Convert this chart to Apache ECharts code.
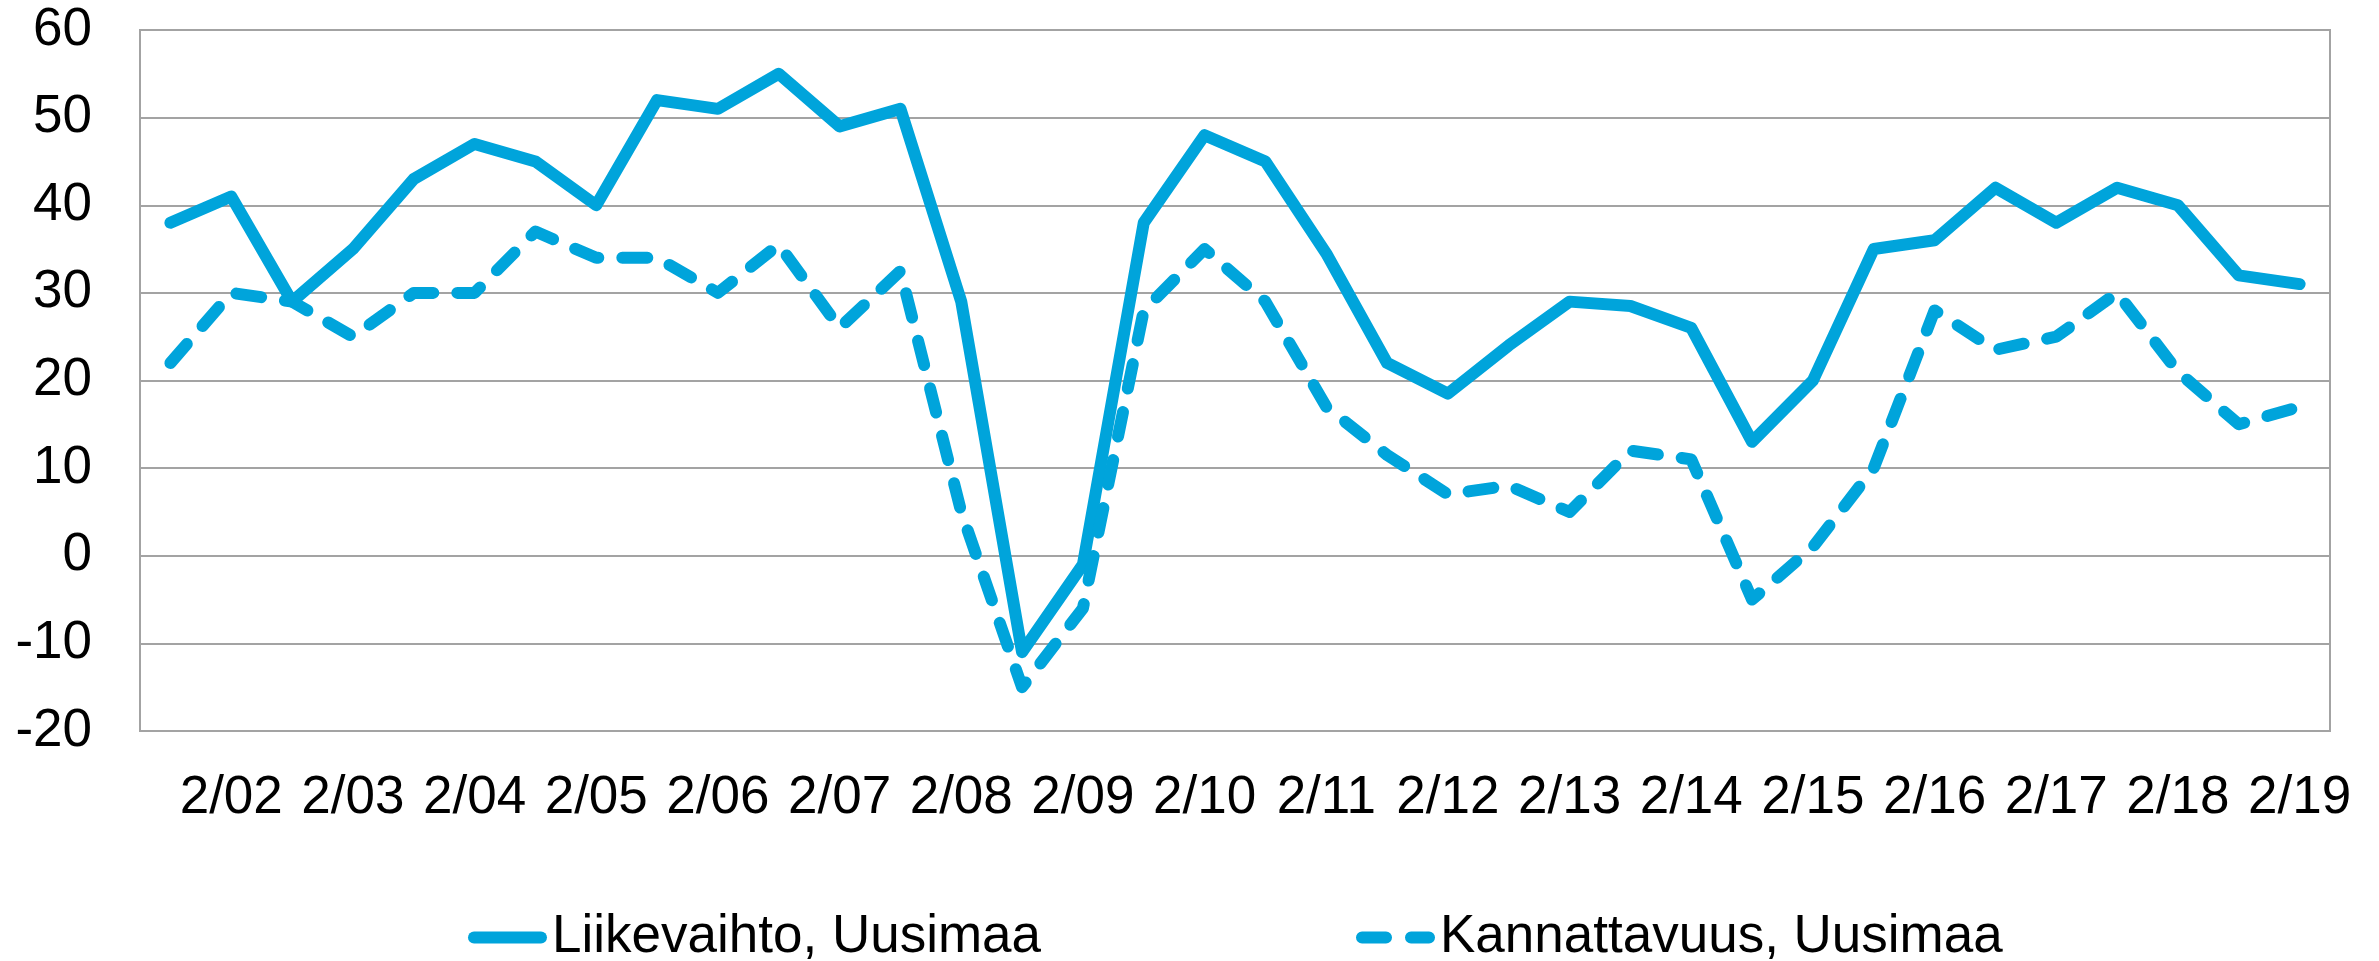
<!DOCTYPE html>
<html>
<head>
<meta charset="utf-8">
<script src="https://cdn.jsdelivr.net/npm/echarts@6/dist/echarts.min.js"></script>
<style>
  html, body { margin: 0; padding: 0; background: #fff; }
  #chart { width: 2379px; height: 961px; }
</style>
</head>
<body>
<div id="chart"></div>
<script>
// puolivuosittaiset havainnot, 8/01 ... 2/19
const categories = [
  '8/01', '2/02', '8/02', '2/03', '8/03', '2/04', '8/04', '2/05', '8/05',
  '2/06', '8/06', '2/07', '8/07', '2/08', '8/08', '2/09', '8/09', '2/10',
  '8/10', '2/11', '8/11', '2/12', '8/12', '2/13', '8/13', '2/14', '8/14',
  '2/15', '8/15', '2/16', '8/16', '2/17', '8/17', '2/18', '8/18', '2/19'
];
const liikevaihto = [
  38, 41, 29, 35, 43, 47, 45, 40, 52, 51, 55, 49, 51, 29, -11, -1, 38, 48,
  45, 34.5, 22, 18.5, 24, 29, 28.5, 26, 13, 20, 35, 36, 42, 38, 42, 40, 32, 31
];
const kannattavuus = [
  22, 30, 29, 25, 30, 30, 37, 34, 34, 30, 35.5, 26, 32.5, 5, -15, -6, 28, 35,
  29, 17, 11.5, 7, 8, 5, 12, 11, -5, 1, 10, 28, 23.5, 25, 30, 21, 15, 17
];
const seriesNames = ['Liikevaihto, Uusimaa', 'Kannattavuus, Uusimaa'];

const blue = '#00a4db';
const gridColor = '#a3a3a3';
const font = "'Liberation Sans', Arial, sans-serif";

// legend icons: rounded bar and two rounded dashes (79 x 12)
const solidIcon = 'path://M6,0 L73,0 A6,6 0 0 1 73,12 L6,12 A6,6 0 0 1 6,0 Z';
const dashIcon = 'path://M6,0 L30,0 A6,6 0 0 1 30,12 L6,12 A6,6 0 0 1 6,0 Z' +
  ' M55,0 L73,0 A6,6 0 0 1 73,12 L55,12 A6,6 0 0 1 55,0 Z';

let myChart = echarts.init(document.getElementById('chart'));
myChart.setOption({
  animation: false,
  textStyle: { fontFamily: font },
  grid: {
    left: 140, right: 49, top: 30, bottom: 230,
    show: true, borderColor: gridColor, borderWidth: 2
  },
  legend: {
    left: 463, top: 906,
    itemWidth: 79, itemHeight: 12, itemGap: 315,
    itemStyle: { borderWidth: 0 },
    textStyle: { fontSize: 53, color: '#000', fontFamily: font },
    data: [
      { name: seriesNames[0], icon: solidIcon },
      { name: seriesNames[1], icon: dashIcon }
    ]
  },
  xAxis: {
    type: 'category',
    data: categories,
    boundaryGap: true,
    axisLine: { lineStyle: { color: gridColor, width: 2 } },
    axisTick: { show: false },
    axisLabel: {
      interval: (i) => i % 2 === 1,
      margin: 41,
      fontSize: 53,
      color: '#000',
      fontFamily: font
    }
  },
  yAxis: {
    type: 'value',
    min: -20, max: 60, interval: 10,
    axisLine: { show: true, lineStyle: { color: gridColor, width: 2 } },
    axisTick: { show: false },
    splitLine: { lineStyle: { color: gridColor, width: 2 } },
    axisLabel: { margin: 48, fontSize: 53, color: '#000', fontFamily: font }
  },
  series: [
    {
      name: seriesNames[0],
      type: 'line',
      data: liikevaihto,
      showSymbol: false,
      symbol: 'none',
      color: blue,
      lineStyle: { width: 12, color: blue, cap: 'round', join: 'round' }
    },
    {
      name: seriesNames[1],
      type: 'line',
      data: kannattavuus,
      showSymbol: false,
      symbol: 'none',
      color: blue,
      lineStyle: { width: 12, color: blue, type: [25, 24], cap: 'round', join: 'round' }
    }
  ]
});
</script>
</body>
</html>
